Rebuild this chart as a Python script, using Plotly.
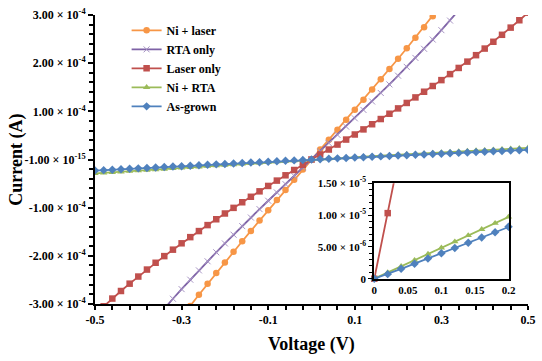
import plotly.graph_objects as go

# ---------------- data (current values in units of 1e-4 A) ----------------
voltage = [-0.5, -0.48, -0.46, -0.44, -0.42, -0.4, -0.38, -0.36, -0.34, -0.32,
           -0.3, -0.28, -0.26, -0.24, -0.22, -0.2, -0.18, -0.16, -0.14, -0.12,
           -0.1, -0.08, -0.06, -0.04, -0.02, 0.0, 0.02, 0.04, 0.06, 0.08,
           0.1, 0.12, 0.14, 0.16, 0.18, 0.2, 0.22, 0.24, 0.26, 0.28,
           0.3, 0.32, 0.34, 0.36, 0.38, 0.4, 0.42, 0.44, 0.46, 0.48, 0.5]

ni_laser = [-5.813, -5.538, -5.268, -5.003, -4.743, -4.488, -4.237, -3.990, -3.747, -3.507,
            -3.272, -3.039, -2.809, -2.582, -2.358, -2.136, -1.916, -1.698, -1.482, -1.268,
            -1.055, -0.842, -0.631, -0.420, -0.210, 0.0, 0.206, 0.412, 0.619, 0.826,
            1.034, 1.243, 1.453, 1.664, 1.877, 2.092, 2.309, 2.527, 2.748, 2.972,
            3.198, 3.427, 3.659, 3.895, 4.133, 4.376, 4.622, 4.873, 5.127, 5.386, 5.650]

rta_only = [-4.894, -4.650, -4.413, -4.180, -3.952, -3.731, -3.514, -3.302, -3.094, -2.891,
            -2.691, -2.495, -2.302, -2.113, -1.926, -1.743, -1.561, -1.383, -1.205, -1.030,
            -0.856, -0.684, -0.511, -0.340, -0.170, 0.0, 0.170, 0.340, 0.511, 0.683,
            0.855, 1.029, 1.204, 1.381, 1.559, 1.740, 1.923, 2.109, 2.298, 2.490,
            2.685, 2.884, 3.087, 3.293, 3.504, 3.720, 3.940, 4.166, 4.397, 4.633, 4.875]

laser_only = [-3.213, -3.047, -2.887, -2.730, -2.578, -2.430, -2.285, -2.144, -2.006, -1.872,
              -1.740, -1.612, -1.486, -1.362, -1.241, -1.121, -1.004, -0.888, -0.774, -0.661,
              -0.549, -0.438, -0.328, -0.218, -0.109, 0.0, 0.103, 0.207, 0.310, 0.414,
              0.519, 0.625, 0.732, 0.840, 0.950, 1.061, 1.174, 1.289, 1.407, 1.526,
              1.648, 1.773, 1.901, 2.032, 2.166, 2.303, 2.444, 2.589, 2.738, 2.891, 3.048]

ni_rta = [-0.2900, -0.2784, -0.2668, -0.2552, -0.2436, -0.2320, -0.2204, -0.2088, -0.1972, -0.1856,
          -0.1740, -0.1624, -0.1508, -0.1392, -0.1276, -0.1160, -0.1044, -0.0928, -0.0812, -0.0696,
          -0.0580, -0.0464, -0.0348, -0.0232, -0.0116, 0.0, 0.0097, 0.0194, 0.0291, 0.0388,
          0.0485, 0.0582, 0.0679, 0.0776, 0.0873, 0.0970, 0.1067, 0.1164, 0.1261, 0.1358,
          0.1455, 0.1552, 0.1649, 0.1746, 0.1843, 0.1940, 0.2037, 0.2134, 0.2231, 0.2328, 0.2425]

as_grown = [-0.2300, -0.2208, -0.2116, -0.2024, -0.1932, -0.1840, -0.1748, -0.1656, -0.1564, -0.1472,
            -0.1380, -0.1288, -0.1196, -0.1104, -0.1012, -0.0920, -0.0828, -0.0736, -0.0644, -0.0552,
            -0.0460, -0.0368, -0.0276, -0.0184, -0.0092, 0.0, 0.0072, 0.0155, 0.0236, 0.0318,
            0.0399, 0.0482, 0.0565, 0.0647, 0.0731, 0.0815, 0.0895, 0.0975, 0.1055, 0.1135,
            0.1215, 0.1295, 0.1375, 0.1455, 0.1535, 0.1615, 0.1695, 0.1775, 0.1855, 0.1935, 0.2015]

CURRENT_UNIT = 1e-4

series_names = ["Ni + laser", "RTA only", "Laser only", "Ni + RTA", "As-grown"]

main_y_tickvals = [-3e-4, -2e-4, -1e-4, 0.0, 1e-4, 2e-4, 3e-4]
main_y_ticktext = ["-3.00 × 10<sup>-4</sup>", "-2.00 × 10<sup>-4</sup>", "-1.00 × 10<sup>-4</sup>",
                   "-1.00 × 10<sup>-15</sup>", "1.00 × 10<sup>-4</sup>", "2.00 × 10<sup>-4</sup>",
                   "3.00 × 10<sup>-4</sup>"]
main_x_tickvals = [-0.5, -0.3, -0.1, 0.1, 0.3, 0.5]
main_x_ticktext = ["-0.5", "-0.3", "-0.1", "0.1", "0.3", "0.5"]

inset_x_tickvals = [0.0, 0.05, 0.1, 0.15, 0.2]
inset_x_ticktext = ["0", "0.05", "0.1", "0.15", "0.2"]
inset_y_tickvals = [0.0, 5e-6, 1e-5, 1.5e-5]
inset_y_ticktext = ["0", "5.00 × 10<sup>-6</sup>", "1.00 × 10<sup>-5</sup>", "1.50 × 10<sup>-5</sup>"]

# ---------------- styling ----------------
FONT = "Times New Roman, Liberation Serif, serif"
colors = {"Ni + laser": "#F79646", "RTA only": "#7E62A6", "Laser only": "#C0504D",
          "Ni + RTA": "#9BBB59", "As-grown": "#4F81BD"}
markers = {
    "Ni + laser": dict(symbol="circle", size=6.5, color="#F79646"),
    "RTA only": dict(symbol="x-thin-open", size=6, color="#A794C4",
                     line=dict(color="#A794C4", width=1)),
    "Laser only": dict(symbol="square", size=6.5, color="#C0504D"),
    "Ni + RTA": dict(symbol="triangle-up", size=6.5, color="#9BBB59"),
    "As-grown": dict(symbol="diamond", size=6.5, color="#4F81BD"),
}
data_by_name = {"Ni + laser": ni_laser, "RTA only": rta_only, "Laser only": laser_only,
                "Ni + RTA": ni_rta, "As-grown": as_grown}

fig = go.Figure()

for name in series_names:
    amps = [v * CURRENT_UNIT for v in data_by_name[name]]
    fig.add_trace(go.Scatter(
        x=voltage, y=amps, name=name, mode="lines+markers",
        line=dict(color=colors[name], width=1.8),
        marker=markers[name], xaxis="x", yaxis="y"))

# inset: Laser only, Ni + RTA, As-grown
for name in ["Laser only", "Ni + RTA", "As-grown"]:
    pts = [(v, c * CURRENT_UNIT) for v, c in zip(voltage, data_by_name[name]) if 0 <= v <= 0.24]
    fig.add_trace(go.Scatter(
        x=[p[0] for p in pts], y=[p[1] for p in pts], mode="lines",
        line=dict(color=colors[name], width=1.8), showlegend=False,
        xaxis="x2", yaxis="y2", hoverinfo="skip"))
    mpts = [p for p in pts if p[0] <= 0.2 and p[1] <= 1.5e-5]
    fig.add_trace(go.Scatter(
        x=[p[0] for p in mpts], y=[p[1] for p in mpts], mode="markers",
        marker=markers[name], showlegend=False, cliponaxis=False,
        xaxis="x2", yaxis="y2"))

bold_tick = dict(family=FONT, size=12, color="black", weight="bold")
inset_tick = dict(family=FONT, size=11, color="black", weight="bold")

fig.update_layout(
    width=542, height=361,
    margin=dict(l=95, r=7, t=7, b=57),
    paper_bgcolor="white", plot_bgcolor="white",
    showlegend=True,
    legend=dict(x=0.073, y=0.997, xanchor="left", yanchor="top",
                font=dict(family=FONT, size=12, color="black", weight="bold"),
                bgcolor="rgba(0,0,0,0)", tracegroupgap=0, itemwidth=30),
    xaxis=dict(domain=[0, 1], range=[-0.5, 0.5], tickvals=main_x_tickvals, ticktext=main_x_ticktext,
               showline=True, linecolor="black", linewidth=2, ticks="outside", ticklen=4,
               tickwidth=1.5, tickcolor="black", showgrid=False, zeroline=False,
               tickfont=bold_tick, anchor="y",
               minor=dict(tickvals=[round(-0.5 + 0.04 * i, 2) for i in range(26)],
                          ticks="outside", ticklen=4, tickwidth=1.5, tickcolor="black",
                          showgrid=False)),
    yaxis=dict(domain=[0, 1], range=[-3e-4, 3e-4], tickvals=main_y_tickvals, ticktext=main_y_ticktext,
               showline=True, linecolor="black", linewidth=2, ticks="outside", ticklen=5,
               tickwidth=1.5, tickcolor="black", showgrid=False, zeroline=False,
               tickfont=bold_tick, anchor="x",
               minor=dict(dtick=2e-5, tick0=0, ticks="outside", ticklen=4, tickwidth=1.5,
                          tickcolor="black", showgrid=False)),
    xaxis2=dict(domain=[0.645, 0.955], range=[0, 0.2], tickvals=inset_x_tickvals,
                ticktext=inset_x_ticktext, showline=True, mirror=True, linecolor="black",
                linewidth=2, ticks="", showgrid=False, zeroline=False,
                tickfont=inset_tick, anchor="y2"),
    yaxis2=dict(domain=[0.0875, 0.418], range=[0, 1.5e-5], tickvals=inset_y_tickvals,
                ticktext=inset_y_ticktext, showline=True, mirror=True, linecolor="black",
                linewidth=2, ticks="outside", ticklen=4, tickwidth=1.2, tickcolor="black",
                showgrid=False, zeroline=False,
                tickfont=inset_tick, anchor="x2",
                minor=dict(dtick=1e-6, tick0=0, ticks="outside", ticklen=3, tickwidth=1,
                           tickcolor="black", showgrid=False)),
    annotations=[
        dict(text="Voltage (V)", x=0.5, y=-0.14, xref="paper", yref="paper",
             xanchor="center", yanchor="middle", showarrow=False,
             font=dict(family=FONT, size=18, color="black", weight="bold")),
        dict(text="Current (A)", x=-0.182, y=0.5, xref="paper", yref="paper",
             xanchor="center", yanchor="middle", showarrow=False, textangle=-90,
             font=dict(family=FONT, size=18, color="black", weight="bold")),
    ],
)

fig.write_html("out.html", config={"displayModeBar": False},
               post_script="document.body.style.margin='0';")
